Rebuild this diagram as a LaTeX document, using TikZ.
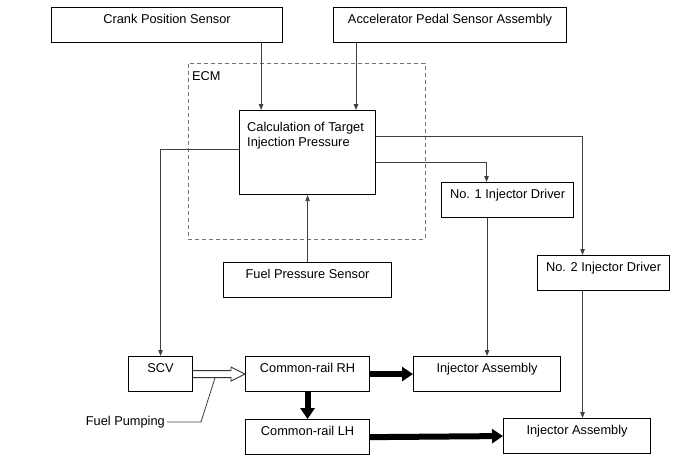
\documentclass[tikz,border=0pt]{standalone}
\usepackage{fontspec}
\setmainfont{Liberation Sans}
\usepackage{tikz}
\usetikzlibrary{calc, positioning, arrows.meta}

\begin{document}
\begin{tikzpicture}
			[x=1pt, y=-1pt,
			box/.style={draw=black, line width=1.1pt, anchor=north west, inner xsep=3pt, inner ysep=5pt,
				text height=10.5pt, text depth=14.5pt, font=\fontsize{12.8}{15}\selectfont},
			frame/.style={draw=black!55, line width=0.9pt, dash pattern=on 4pt off 3pt, anchor=north west},
			lbl/.style={anchor=north west, inner sep=0pt, align=left, font=\fontsize{12.8}{15}\selectfont},
			wire/.style={draw=black!75, line width=0.8pt, -{Triangle[length=6pt,width=4.5pt]}},
			fuel/.style={draw=black, line width=6pt, -{Triangle[length=11pt,width=14pt]}},
			hollow/.style={draw=black!80, line width=0.9pt, fill=white, line join=miter},
			lead/.style={draw=black!75, line width=0.8pt}]
		\useasboundingbox (0,0) rectangle (688,463);

		% nodes %
		\node[frame, minimum width=237pt, minimum height=176pt,
			label={[lbl, xshift=4pt, yshift=-8.5pt]north west:ECM}] (ecm) at (188,63) {};
		\node[box, minimum width=231pt] (crank) at (51,7) {Crank Position Sensor};
		\node[box, minimum width=233pt] (accel) at (333,7) {Accelerator Pedal Sensor Assembly};
		\node[box, minimum width=136pt, minimum height=84pt, text height=0pt, text depth=0pt,
			label={[lbl, xshift=8pt, yshift=-12.5pt]north west:Calculation of Target\\Injection Pressure}] (calc) at (239,110) {};
		\node[box, minimum width=168pt] (fps) at (223,262) {Fuel Pressure Sensor};
		\node[box, minimum width=132pt] (drv1) at (441,182) {No. 1 Injector Driver};
		\node[box, minimum width=132pt] (drv2) at (537,255) {No. 2 Injector Driver};
		\node[box, minimum width=64pt] (scv) at (128,356) {SCV};
		\node[box, minimum width=124pt] (rh) at (245,356) {Common-rail RH};
		\node[box, minimum width=124pt, below=27pt of rh.south west, anchor=north west] (lh) {Common-rail LH};
		\node[box, minimum width=147pt] (inj1) at (413,356) {Injector Assembly};
		\node[box, minimum width=147pt] (inj2) at (503,418) {Injector Assembly};
		\node[anchor=east, inner sep=2pt, font=\fontsize{12.8}{15}\selectfont] (pump) at (167,422) {Fuel Pumping};
		\coordinate (pumpend) at ([xshift=22pt, yshift=-3.5pt]scv.east);

		% edges %
		\draw[wire] ([xshift=-22pt]crank.south east) -- ([xshift=-22pt]crank.south east |- calc.north);
		\draw[wire] ([xshift=23pt]accel.south west) -- ([xshift=23pt]accel.south west |- calc.north);
		\draw[wire] (fps.north) -- (fps.north |- calc.south);
		\draw[wire] ([yshift=-10pt]calc.east) -| ([xshift=-21pt]drv1.north);
		\draw[wire] ([yshift=16pt]calc.east) -| ([xshift=-21pt]drv2.north);
		\draw[wire] ([yshift=3pt]calc.west) -| (scv.north);
		\draw[wire] (drv1.south -| inj1.north) -- (inj1.north);
		\draw[wire] ([xshift=-21pt]drv2.south) -- ([xshift=-21pt]drv2.south |- inj2.north);

		\draw[fuel] (rh.east) -- (inj1.west);
		\draw[fuel] (rh.south) -- (lh.north);
		\draw[fuel] (lh.east) -- (inj2.west);

		\draw[hollow] ([yshift=3.5pt]scv.east) -- ([xshift=-14pt, yshift=3.5pt]rh.west)
			-- ([xshift=-14pt, yshift=7pt]rh.west) -- (rh.west)
			-- ([xshift=-14pt, yshift=-7pt]rh.west) -- ([xshift=-14pt, yshift=-3.5pt]rh.west)
			-- ([yshift=-3.5pt]scv.east);
		\draw[lead] (pump.east) -- ++(34,0) -- (pumpend);
\end{tikzpicture}
\end{document}
